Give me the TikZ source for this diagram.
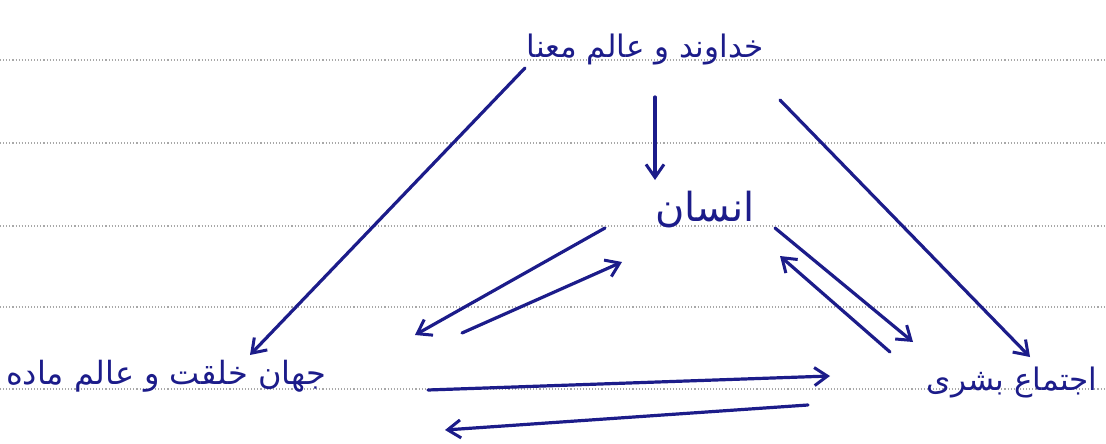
\documentclass[tikz,border=0pt]{standalone}
\usepackage{fontspec}
\usetikzlibrary{arrows.meta}
\TeXXeTstate=1
\newfontfamily\arabicfont[Script=Arabic]{DejaVu Sans}
\definecolor{ink}{HTML}{1C1C8A}
\definecolor{rule}{HTML}{A8A8A8}
\begin{document}
\begin{tikzpicture}[x=1pt,y=-1pt,
  label/.style={text=ink,font=\arabicfont\fontsize{31}{36}\selectfont,inner sep=2pt},
  conn/.style={draw=ink,line width=3.2pt,line cap=round,-{Straight Barb[length=13pt,width=18pt,line width=3pt]}},
  ruled/.style={draw=rule,line width=1.1pt,dotted}]
\useasboundingbox (0,0) rectangle (1106,444);
\fill[white] (0,0) rectangle (1106,444);
\foreach \yy in {60,143,226,307,389} \draw[ruled] (0,\yy) -- (1106,\yy);
\node[label] (god) at (645,50) {\beginR خداوند و عالم معنا\endR};
\node[label,font=\arabicfont\fontsize{40}{44}\selectfont] (human) at (705,210) {\beginR انسان\endR};
\node[label,font=\arabicfont\fontsize{32}{36}\selectfont] (world) at (166,376) {\beginR جهان خلقت و عالم ماده\endR};
\node[label] (society) at (1012,383) {\beginR اجتماع بشری\endR};
% endpoints
\coordinate (g1) at (525,68);  \coordinate (w1) at (250,355);
\coordinate (g2) at (655,97);  \coordinate (h2) at (655,180);
\coordinate (g3) at (780,100); \coordinate (s3) at (1030,357);
\coordinate (h4) at (605,228); \coordinate (w4) at (415,335);
\coordinate (w5) at (462,333); \coordinate (h5) at (622,262);
\coordinate (h6) at (775,228); \coordinate (s6) at (913,342);
\coordinate (s7) at (890,352); \coordinate (h7) at (780,256);
\coordinate (w8) at (428,390); \coordinate (s8) at (830,376);
\coordinate (s9) at (808,405); \coordinate (w9) at (445,430);
\draw[conn] (g1) -- (w1);
\draw[conn] (g2) -- (h2);
\draw[conn] (g3) -- (s3);
\draw[conn] (h4) -- (w4);
\draw[conn] (w5) -- (h5);
\draw[conn] (h6) -- (s6);
\draw[conn] (s7) -- (h7);
\draw[conn] (w8) -- (s8);
\draw[conn] (s9) -- (w9);
\end{tikzpicture}
\end{document}
